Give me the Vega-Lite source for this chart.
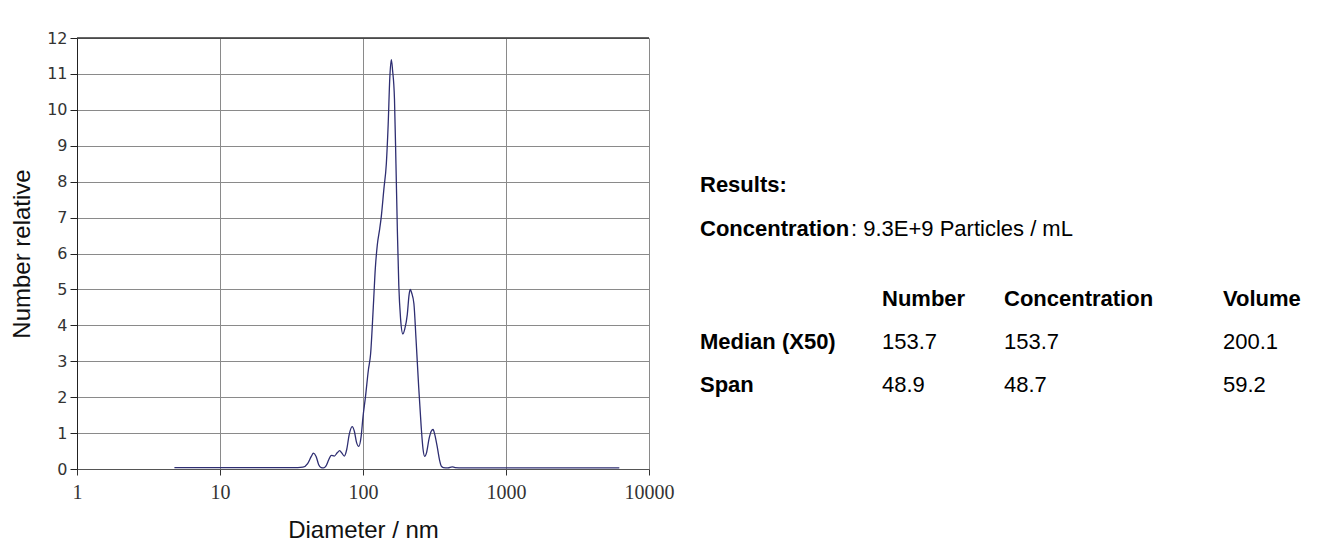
{
  "$schema": "https://vega.github.io/schema/vega-lite/v6.json",
  "background": "white",
  "padding": {"left": 10, "top": 30, "right": 5, "bottom": 5},
  "config": {
    "view": {"stroke": null},
    "font": "Liberation Sans",
    "axisY": {
      "grid": true,
      "gridColor": "#8a8a8a",
      "domainColor": "#222",
      "tickColor": "#222",
      "tickSize": 7,
      "labelFont": "DejaVu Sans",
      "labelFontSize": 16,
      "labelColor": "#333",
      "labelPadding": 3,
      "labelOverlap": false,
      "titleFont": "Liberation Sans",
      "titleFontSize": 24,
      "titleFontWeight": "normal",
      "titleColor": "#111",
      "titlePadding": 12
    }
  },
  "spacing": 26,
  "hconcat": [
    {
      "width": 572,
      "height": 431,
      "layer": [
        {
          "data": {
            "values": [
              {"d": 4.8, "v": 0.04}, {"d": 10, "v": 0.04}, {"d": 20, "v": 0.04}, {"d": 35, "v": 0.04},
              {"d": 38, "v": 0.05}, {"d": 41, "v": 0.15}, {"d": 43.5, "v": 0.35}, {"d": 45, "v": 0.44},
              {"d": 47, "v": 0.35}, {"d": 49, "v": 0.12}, {"d": 51, "v": 0.04}, {"d": 53, "v": 0.03},
              {"d": 55, "v": 0.08}, {"d": 57.5, "v": 0.25}, {"d": 60, "v": 0.38}, {"d": 63, "v": 0.36},
              {"d": 66, "v": 0.45}, {"d": 68.7, "v": 0.51}, {"d": 71, "v": 0.45}, {"d": 74, "v": 0.36},
              {"d": 77, "v": 0.55}, {"d": 80, "v": 0.95}, {"d": 84, "v": 1.18}, {"d": 87, "v": 1.05},
              {"d": 90, "v": 0.75}, {"d": 93.5, "v": 0.63}, {"d": 97, "v": 0.9}, {"d": 100, "v": 1.45},
              {"d": 104, "v": 2.0}, {"d": 109, "v": 2.75}, {"d": 113, "v": 3.2}, {"d": 118, "v": 4.5},
              {"d": 122, "v": 5.6}, {"d": 126, "v": 6.25}, {"d": 131, "v": 6.7}, {"d": 134, "v": 7.0},
              {"d": 140, "v": 7.8}, {"d": 145.6, "v": 8.5}, {"d": 150, "v": 9.6}, {"d": 154, "v": 10.9},
              {"d": 157.8, "v": 11.4}, {"d": 161, "v": 11.1}, {"d": 166, "v": 10.3}, {"d": 170, "v": 8.5},
              {"d": 174, "v": 6.6}, {"d": 178, "v": 5.1}, {"d": 183, "v": 4.2}, {"d": 190, "v": 3.76},
              {"d": 196, "v": 3.9}, {"d": 204, "v": 4.3}, {"d": 210, "v": 4.85}, {"d": 214, "v": 5.0},
              {"d": 219, "v": 4.9}, {"d": 227, "v": 4.6}, {"d": 235, "v": 3.6}, {"d": 245, "v": 2.3},
              {"d": 255, "v": 1.2}, {"d": 263, "v": 0.55}, {"d": 270, "v": 0.35}, {"d": 278, "v": 0.45},
              {"d": 290, "v": 0.85}, {"d": 300, "v": 1.05}, {"d": 309, "v": 1.1}, {"d": 318, "v": 0.95},
              {"d": 331, "v": 0.6}, {"d": 343, "v": 0.25}, {"d": 353, "v": 0.08}, {"d": 365, "v": 0.04},
              {"d": 393, "v": 0.03}, {"d": 420, "v": 0.06}, {"d": 440, "v": 0.04}, {"d": 500, "v": 0.03},
              {"d": 1000, "v": 0.03}, {"d": 3000, "v": 0.03}, {"d": 6200, "v": 0.03}
            ]
          },
          "mark": {"type": "line", "color": "#2e2e72", "strokeWidth": 1.3, "interpolate": "monotone"},
          "encoding": {
            "x": {
              "field": "d",
              "type": "quantitative",
              "scale": {"type": "log", "domain": [1, 10000], "nice": false},
              "axis": {
                "title": "Diameter / nm",
                "values": [1, 10, 100, 1000, 10000],
                "format": "d",
                "grid": true,
                "gridColor": "#8a8a8a",
                "domainColor": "#555",
                "tickColor": "#333",
                "tickSize": 6,
                "labelFont": "Liberation Serif",
                "labelFontSize": 20,
                "labelColor": "#333",
                "labelPadding": 7,
                "labelFlush": false,
                "labelOverlap": false,
                "titleFont": "Liberation Sans",
                "titleFontSize": 24,
                "titleFontWeight": "normal",
                "titleColor": "#111",
                "titlePadding": 16
              }
            },
            "y": {
              "field": "v",
              "type": "quantitative",
              "scale": {"domain": [0, 12], "nice": false},
              "axis": {"title": "Number relative", "values": [0, 1, 2, 3, 4, 5, 6, 7, 8, 9, 10, 11, 12]}
            }
          }
        },
        {
          "data": {"values": [{}]},
          "mark": {"type": "rule", "color": "#333", "strokeWidth": 1.5},
          "encoding": {
            "y": {
              "datum": 12,
              "type": "quantitative",
              "axis": {"title": "Number relative", "values": [0, 1, 2, 3, 4, 5, 6, 7, 8, 9, 10, 11, 12]}
            }
          }
        }
      ]
    },
    {
      "width": 610,
      "height": 431,
      "data": {
        "values": [
          {"text": "Results:", "col": 0, "row": 0, "role": "label"},
          {"text": "Concentration", "col": 0, "row": 1, "role": "label"},
          {"text": ": 9.3E+9 Particles / mL", "col": 1, "row": 1, "role": "value"},
          {"text": "Number", "col": 2, "row": 2, "role": "label"},
          {"text": "Concentration", "col": 3, "row": 2, "role": "label"},
          {"text": "Volume", "col": 4, "row": 2, "role": "label"},
          {"text": "Median (X50)", "col": 0, "row": 3, "role": "label"},
          {"text": "153.7", "col": 2, "row": 3, "role": "value"},
          {"text": "153.7", "col": 3, "row": 3, "role": "value"},
          {"text": "200.1", "col": 4, "row": 3, "role": "value"},
          {"text": "Span", "col": 0, "row": 4, "role": "label"},
          {"text": "48.9", "col": 2, "row": 4, "role": "value"},
          {"text": "48.7", "col": 3, "row": 4, "role": "value"},
          {"text": "59.2", "col": 4, "row": 4, "role": "value"}
        ]
      },
      "encoding": {
        "x": {
          "field": "col",
          "type": "quantitative",
          "scale": {"domain": [0, 1, 2, 3, 4], "range": [0, 151, 182, 304, 523], "nice": false, "zero": false},
          "axis": null
        },
        "y": {
          "field": "row",
          "type": "quantitative",
          "scale": {"domain": [0, 1, 2, 3, 4], "range": [147, 191, 261, 304, 347], "nice": false, "zero": false},
          "axis": null
        },
        "text": {"field": "text", "type": "nominal"}
      },
      "layer": [
        {
          "transform": [{"filter": "datum.role === 'label'"}],
          "mark": {"type": "text", "align": "left", "baseline": "middle", "font": "Liberation Sans", "fontSize": 22, "fontWeight": "bold", "color": "#000"}
        },
        {
          "transform": [{"filter": "datum.role === 'value'"}],
          "mark": {"type": "text", "align": "left", "baseline": "middle", "font": "Liberation Sans", "fontSize": 22, "color": "#000"}
        }
      ]
    }
  ]
}
